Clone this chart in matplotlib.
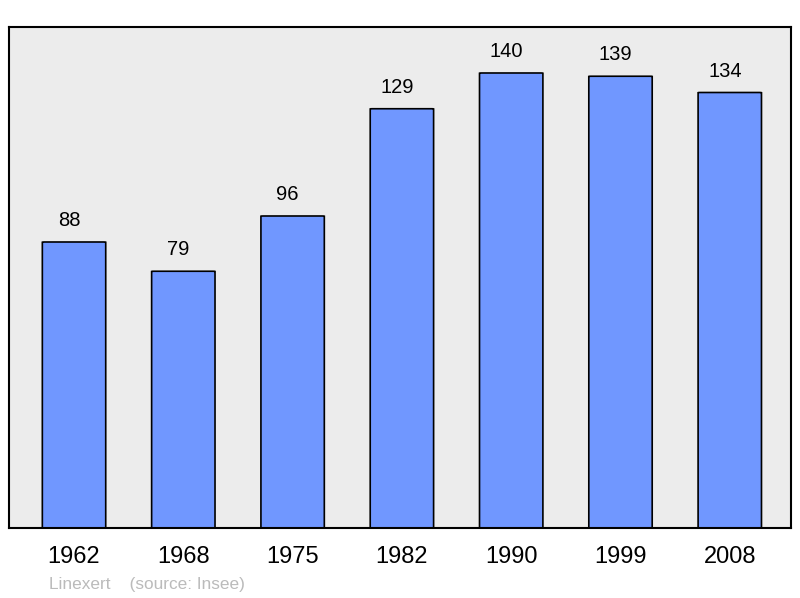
import matplotlib
matplotlib.use("Agg")
import matplotlib.pyplot as plt
from matplotlib.patches import FancyBboxPatch

years = ["1962", "1968", "1975", "1982", "1990", "1999", "2008"]
population = [88, 79, 96, 129, 140, 139, 134]

plt.rcParams["font.family"] = ["Liberation Sans", "DejaVu Sans"]

fig = plt.figure(figsize=(8, 5.98), dpi=100)
ax = fig.add_axes([9 / 800, 70 / 598, 782 / 800, 501 / 598])
ax.set_facecolor("#ececec")

bar_w = 0.58
for i, v in enumerate(population):
    patch = FancyBboxPatch((i - bar_w / 2, 0), bar_w, v,
                           boxstyle="round,pad=0,rounding_size=0.02",
                           mutation_aspect=3.0,
                           facecolor="#7097ff", edgecolor="black", linewidth=1.2)
    ax.add_patch(patch)
    ax.text(i - 0.045, v + 6.6, str(v), ha="center", va="center", fontsize=14.5, color="black")

ax.set_xlim(-0.595, 6.56)
ax.set_ylim(0, 154.15)
ax.set_xticks(range(len(years)))
ax.set_xticklabels(years, fontsize=17)
ax.tick_params(axis="x", length=0, pad=13)
ax.set_yticks([])
for s in ax.spines.values():
    s.set_linewidth(1.5)
    s.set_color("black")

fig.text(49 / 800, 1 - 585 / 598, "Linexert    (source: Insee)", fontsize=12.4,
         color="#bbbbbb", ha="left", va="center")

fig.savefig("out.png", dpi=100)
